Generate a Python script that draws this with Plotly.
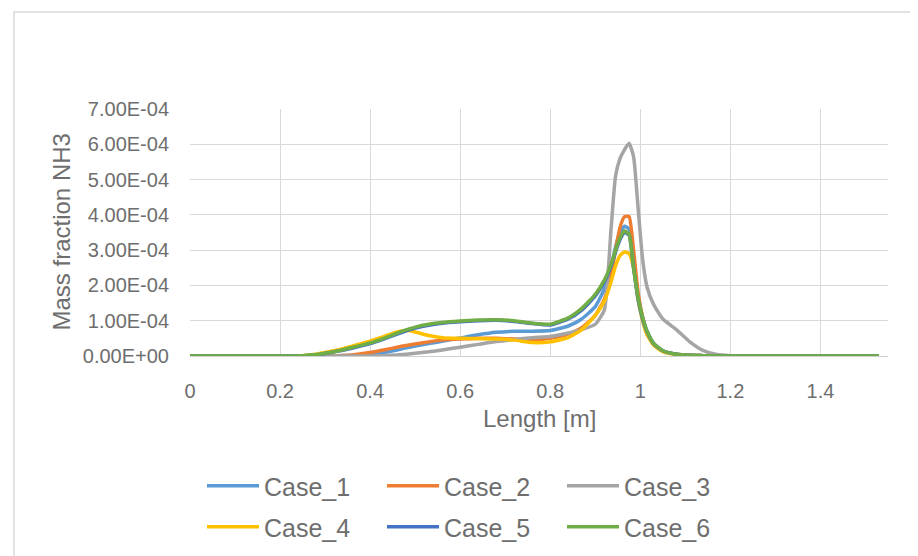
import plotly.graph_objects as go

# Length [m]
x = [0, 0.1, 0.2, 0.25, 0.28, 0.3, 0.33, 0.36, 0.4, 0.43, 0.46, 0.48, 0.5, 0.53, 0.56,
     0.6, 0.64, 0.68, 0.72, 0.76, 0.8, 0.84, 0.87, 0.9, 0.92, 0.935, 0.945, 0.955,
     0.965, 0.975, 0.985, 0.995, 1.005, 1.015, 1.03, 1.05, 1.08, 1.11, 1.14, 1.17,
     1.2, 1.3, 1.4, 1.53]

# Mass fraction NH3, in units of 1e-4
case_1 = [0, 0, 0, 0, 0, 0, 0.01, 0.02, 0.06, 0.10, 0.17, 0.23, 0.28, 0.35, 0.42,
          0.51, 0.60, 0.67, 0.70, 0.70, 0.72, 0.85, 1.05, 1.40, 1.90, 2.50, 3.10, 3.50,
          3.68, 3.60, 2.70, 1.70, 1.10, 0.70, 0.35, 0.15, 0.05, 0.02, 0.01, 0,
          0, 0, 0, 0]
case_2 = [0, 0, 0, 0, 0, 0, 0.01, 0.03, 0.10, 0.17, 0.25, 0.30, 0.34, 0.40, 0.45,
          0.48, 0.50, 0.50, 0.48, 0.45, 0.50, 0.62, 0.80, 1.15, 1.60, 2.30, 3.00, 3.65,
          3.95, 3.95, 3.00, 1.80, 1.10, 0.65, 0.32, 0.14, 0.05, 0.02, 0.01, 0,
          0, 0, 0, 0]
case_3 = [0, 0, 0, 0, 0, 0, 0, 0, 0, 0.01, 0.03, 0.05, 0.08, 0.12, 0.17,
          0.25, 0.33, 0.41, 0.47, 0.52, 0.55, 0.65, 0.75, 0.90, 1.30, 3.60, 5.10, 5.60,
          5.85, 6.03, 5.65, 4.20, 2.75, 1.95, 1.45, 1.05, 0.75, 0.40, 0.15, 0.04,
          0.01, 0, 0, 0]
case_4 = [0, 0, 0, 0.01, 0.05, 0.10, 0.18, 0.28, 0.42, 0.55, 0.68, 0.72, 0.68, 0.58, 0.52,
          0.50, 0.49, 0.48, 0.45, 0.38, 0.40, 0.52, 0.75, 1.15, 1.55, 2.10, 2.55, 2.85,
          2.95, 2.90, 2.50, 1.60, 1.00, 0.60, 0.30, 0.12, 0.04, 0.02, 0.01, 0,
          0, 0, 0, 0]
case_5 = [0, 0, 0, 0.01, 0.03, 0.07, 0.14, 0.22, 0.35, 0.48, 0.62, 0.71, 0.79, 0.87, 0.93,
          0.97, 1.00, 1.01, 0.98, 0.92, 0.88, 1.05, 1.30, 1.70, 2.10, 2.55, 2.95, 3.30,
          3.50, 3.42, 2.50, 1.60, 1.05, 0.68, 0.34, 0.15, 0.05, 0.02, 0.01, 0,
          0, 0, 0, 0]
case_6 = [0, 0, 0, 0.01, 0.04, 0.08, 0.15, 0.24, 0.37, 0.50, 0.65, 0.74, 0.82, 0.90, 0.95,
          0.99, 1.02, 1.03, 1.00, 0.93, 0.90, 1.08, 1.35, 1.75, 2.15, 2.60, 3.00, 3.35,
          3.54, 3.45, 2.50, 1.65, 1.10, 0.70, 0.35, 0.15, 0.05, 0.02, 0.01, 0,
          0, 0, 0, 0]

SCALE = 1e-4
names = ["Case_1", "Case_2", "Case_3", "Case_4", "Case_5", "Case_6"]
series = [case_1, case_2, case_3, case_4, case_5, case_6]
colors = ["#5B9BD5", "#ED7D31", "#A5A5A5", "#FFC000", "#4472C4", "#70AD47"]

y_tickvals = [0, 1e-4, 2e-4, 3e-4, 4e-4, 5e-4, 6e-4, 7e-4]
y_ticktext = ["0.00E+00", "1.00E-04", "2.00E-04", "3.00E-04",
              "4.00E-04", "5.00E-04", "6.00E-04", "7.00E-04"]
x_tickvals = [0, 0.2, 0.4, 0.6, 0.8, 1.0, 1.2, 1.4]
x_ticktext = ["0", "0.2", "0.4", "0.6", "0.8", "1", "1.2", "1.4"]

FONT = "Liberation Sans, Arial, sans-serif"
TXT = "#6e6e6e"

fig = go.Figure()
for i, (n, s, c) in enumerate(zip(names, series, colors)):
    fig.add_trace(go.Scatter(
        x=x, y=[v * SCALE for v in s], name=n, mode="lines",
        line=dict(color=c, width=3.5, shape="spline", smoothing=0.5),
        legend="legend" if i < 3 else "legend2",
    ))

W, H = 918, 556
L, R, T, B = 182, 38, 101, 208
PW, PH = W - L - R, H - T - B


def px_x(p):
    return (p - L) / PW


def px_y(p):
    return (H - B - p) / PH


legend_common = dict(
    orientation="h", xref="container", yref="container",
    xanchor="left", yanchor="middle",
    font=dict(family=FONT, size=25, color=TXT),
    entrywidth=113, entrywidthmode="pixels",
    itemwidth=52, bgcolor="rgba(0,0,0,0)", borderwidth=0,
    tracegroupgap=0,
)

fig.update_layout(
    width=W, height=H,
    margin=dict(l=L, r=R, t=T, b=B, autoexpand=False),
    paper_bgcolor="white", plot_bgcolor="white",
    font=dict(family=FONT, color=TXT),
    showlegend=True,
    legend=dict(x=194 / W, y=1 - 478 / H, **legend_common),
    legend2=dict(x=194 / W, y=1 - 519 / H, **legend_common),
    xaxis=dict(
        range=[0, 1.55], tickvals=x_tickvals, ticktext=x_ticktext,
        showgrid=True, gridcolor="#d9d9d9", gridwidth=1,
        showline=True, linecolor="#d0d0d0", linewidth=1,
        zeroline=False, ticks="",
        tickfont=dict(family=FONT, size=20, color=TXT),
        ticklabelstandoff=17, automargin=False,
    ),
    yaxis=dict(
        range=[0, 7e-4], tickvals=y_tickvals, ticktext=y_ticktext,
        showgrid=True, gridcolor="#d9d9d9", gridwidth=1,
        showline=False, zeroline=False, ticks="",
        tickfont=dict(family=FONT, size=20, color=TXT),
        ticklabelstandoff=20, automargin=False,
    ),
    annotations=[
        dict(text="Length [m]", xref="paper", yref="paper", x=0.5, y=px_y(410),
             xanchor="center", yanchor="middle", showarrow=False,
             font=dict(family=FONT, size=24, color=TXT)),
        dict(text="Mass fraction NH3", xref="paper", yref="paper", x=px_x(53), y=0.5,
             xanchor="center", yanchor="middle", showarrow=False, textangle=-90,
             font=dict(family=FONT, size=24, color=TXT)),
    ],
)

# chart border
fig.add_shape(type="rect", xref="paper", yref="paper",
              x0=px_x(6), x1=px_x(912), y0=px_y(552), y1=px_y(4),
              line=dict(color="#d9d9d9", width=1.5), fillcolor="rgba(0,0,0,0)",
              layer="below")

fig.write_html("out.html")
